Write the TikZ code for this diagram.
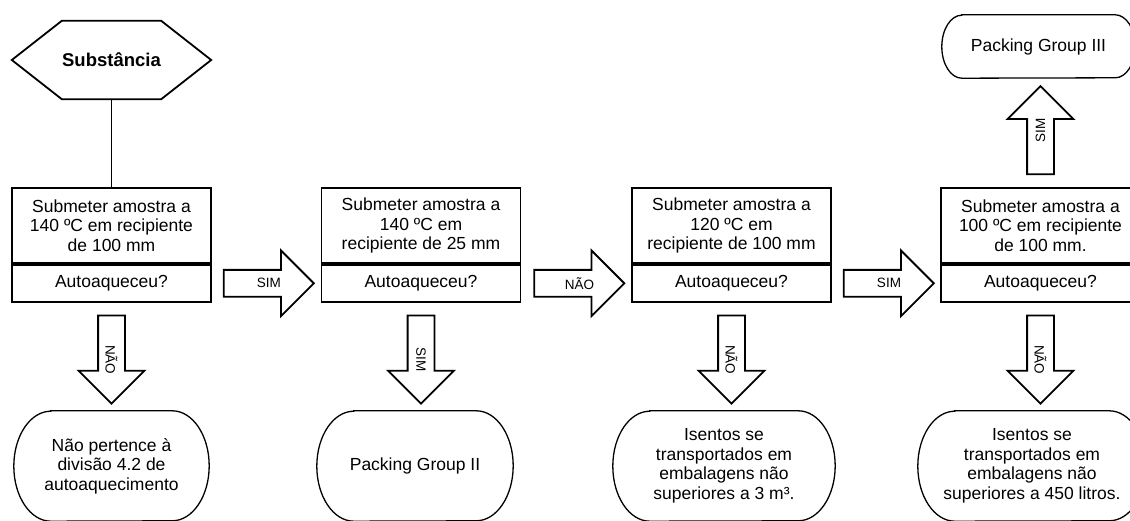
\documentclass[tikz,border=0pt]{standalone}
\usepackage{fontspec}
\setmainfont{Liberation Sans}
\usetikzlibrary{positioning,calc,shapes.arrows}

\tikzset{
  txt/.style={font=\fontsize{17.5}{19.5}\selectfont},
  proc/.style={draw,txt,line width=1.8pt,minimum width=199pt,minimum height=75pt,align=center,inner sep=0pt},
  quest/.style={proc,minimum height=37pt},
  term/.style={txt,minimum width=#1,minimum height=110pt,align=center,inner sep=0pt},
  harrow/.style={draw,line width=1.8pt,single arrow,single arrow head extend=19.5pt,
    single arrow tip angle=90,minimum height=90pt,
    text height=10pt,text depth=0pt,inner ysep=7.5pt,inner xsep=0pt,anchor=tail},
  varrow/.style={harrow,minimum height=88pt,rotate=-90},
  albl/.style={inner sep=0pt,font=\fontsize{13.5}{14}\selectfont},
}

% outline of a terminal with elliptical ends
\newcommand{\termline}[3]{%
  \draw[line width=1.3pt] ([xshift=#2]#1.north west) -- ([xshift=-#2]#1.north east)
    arc[start angle=90,end angle=-90,x radius=#2,y radius=#3]
    -- ([xshift=#2]#1.south west)
    arc[start angle=270,end angle=90,x radius=#2,y radius=#3] -- cycle;}

\begin{document}
\begin{tikzpicture}[x=1pt,y=-1pt]
  \useasboundingbox (0,0) rectangle (1130,521);
  \clip (0,0) rectangle (1130,521);

  % start
  \node[minimum width=199pt,minimum height=78pt,inner sep=0pt,
        font=\fontsize{18.5}{20}\selectfont\bfseries] (sub) at (111.5,60) {Substância};
  \draw[line width=1.8pt] (sub.west) -- ([xshift=50pt]sub.north west)
    -- ([xshift=-50pt]sub.north east) -- (sub.east)
    -- ([xshift=-50pt]sub.south east) -- ([xshift=50pt]sub.south west) -- cycle;

  % tests
  \node[proc] (p1) at (111.5,225.5) {Submeter amostra a\\140 ºC em recipiente\\de 100 mm};
  \node[quest,below=0pt of p1] (q1) {Autoaqueceu?};
  \node[proc] (p2) at (421,225.5) {Submeter amostra a\\140 ºC em\\recipiente de 25 mm};
  \node[quest,below=0pt of p2] (q2) {Autoaqueceu?};
  \node[proc] (p3) at (731.5,225.5) {Submeter amostra a\\120 ºC em\\recipiente de 100 mm};
  \node[quest,below=0pt of p3] (q3) {Autoaqueceu?};
  \node[proc] (p4) at (1040.5,225.5) {Submeter amostra a\\100 ºC em recipiente\\de 100 mm.};
  \node[quest,below=0pt of p4] (q4) {Autoaqueceu?};

  \draw[line width=1.8pt] (sub) -- (p1);

  % results
  \node[term=195pt] (t1) at (111.5,466) {Não pertence à\\divisão 4.2 de\\autoaquecimento};
  \node[term=196pt] (t2) at (415,466) {Packing Group II};
  \node[term=222pt] (t3) at (724,466) {Isentos se\\transportados em\\embalagens não\\superiores a 3 m³.};
  \node[term=228pt] (t4) at (1032,466) {Isentos se\\transportados em\\embalagens não\\superiores a 450 litros.};
  \node[term=193pt,minimum height=63pt] (t5) at (1038.5,46.5) {Packing Group III};
  \termline{t1}{37pt}{55pt}
  \termline{t2}{37pt}{55pt}
  \termline{t3}{37pt}{55pt}
  \termline{t4}{37pt}{55pt}
  \termline{t5}{20pt}{31.5pt}

  % block arrows
  \node[harrow] (a1) at ([xshift=11pt]q1.east) {};
  \node[harrow] (a2) at ([xshift=12pt]q2.east) {};
  \node[harrow] (a3) at ([xshift=11pt]q3.east) {};
  \node[varrow] (d1) at ([yshift=-12pt]q1.south) {};
  \node[varrow] (d2) at ([yshift=-12pt]q2.south) {};
  \node[varrow] (d3) at ([yshift=-12pt]q3.south) {};
  \node[varrow] (d4) at ([yshift=-12pt]q4.south) {};
  \node[varrow,rotate=180] (u1) at ([yshift=12pt]p4.north) {};

  \node[albl] (la1) at ($(a1.tail)!.5!(a1.tip)$) {SIM};
  \node[albl] (la2) at ($(a2.tail)!.5!(a2.tip)$) {NÃO};
  \node[albl] (la3) at ($(a3.tail)!.5!(a3.tip)$) {SIM};
  \node[albl,rotate=-90] (ld1) at ($(d1.tail)!.5!(d1.tip)$) {NÃO};
  \node[albl,rotate=-90] (ld2) at ($(d2.tail)!.5!(d2.tip)$) {SIM};
  \node[albl,rotate=-90] (ld3) at ($(d3.tail)!.5!(d3.tip)$) {NÃO};
  \node[albl,rotate=-90] (ld4) at ($(d4.tail)!.5!(d4.tip)$) {NÃO};
  \node[albl,rotate=90] (lu1) at ($(u1.tail)!.5!(u1.tip)$) {SIM};
\end{tikzpicture}
\end{document}
